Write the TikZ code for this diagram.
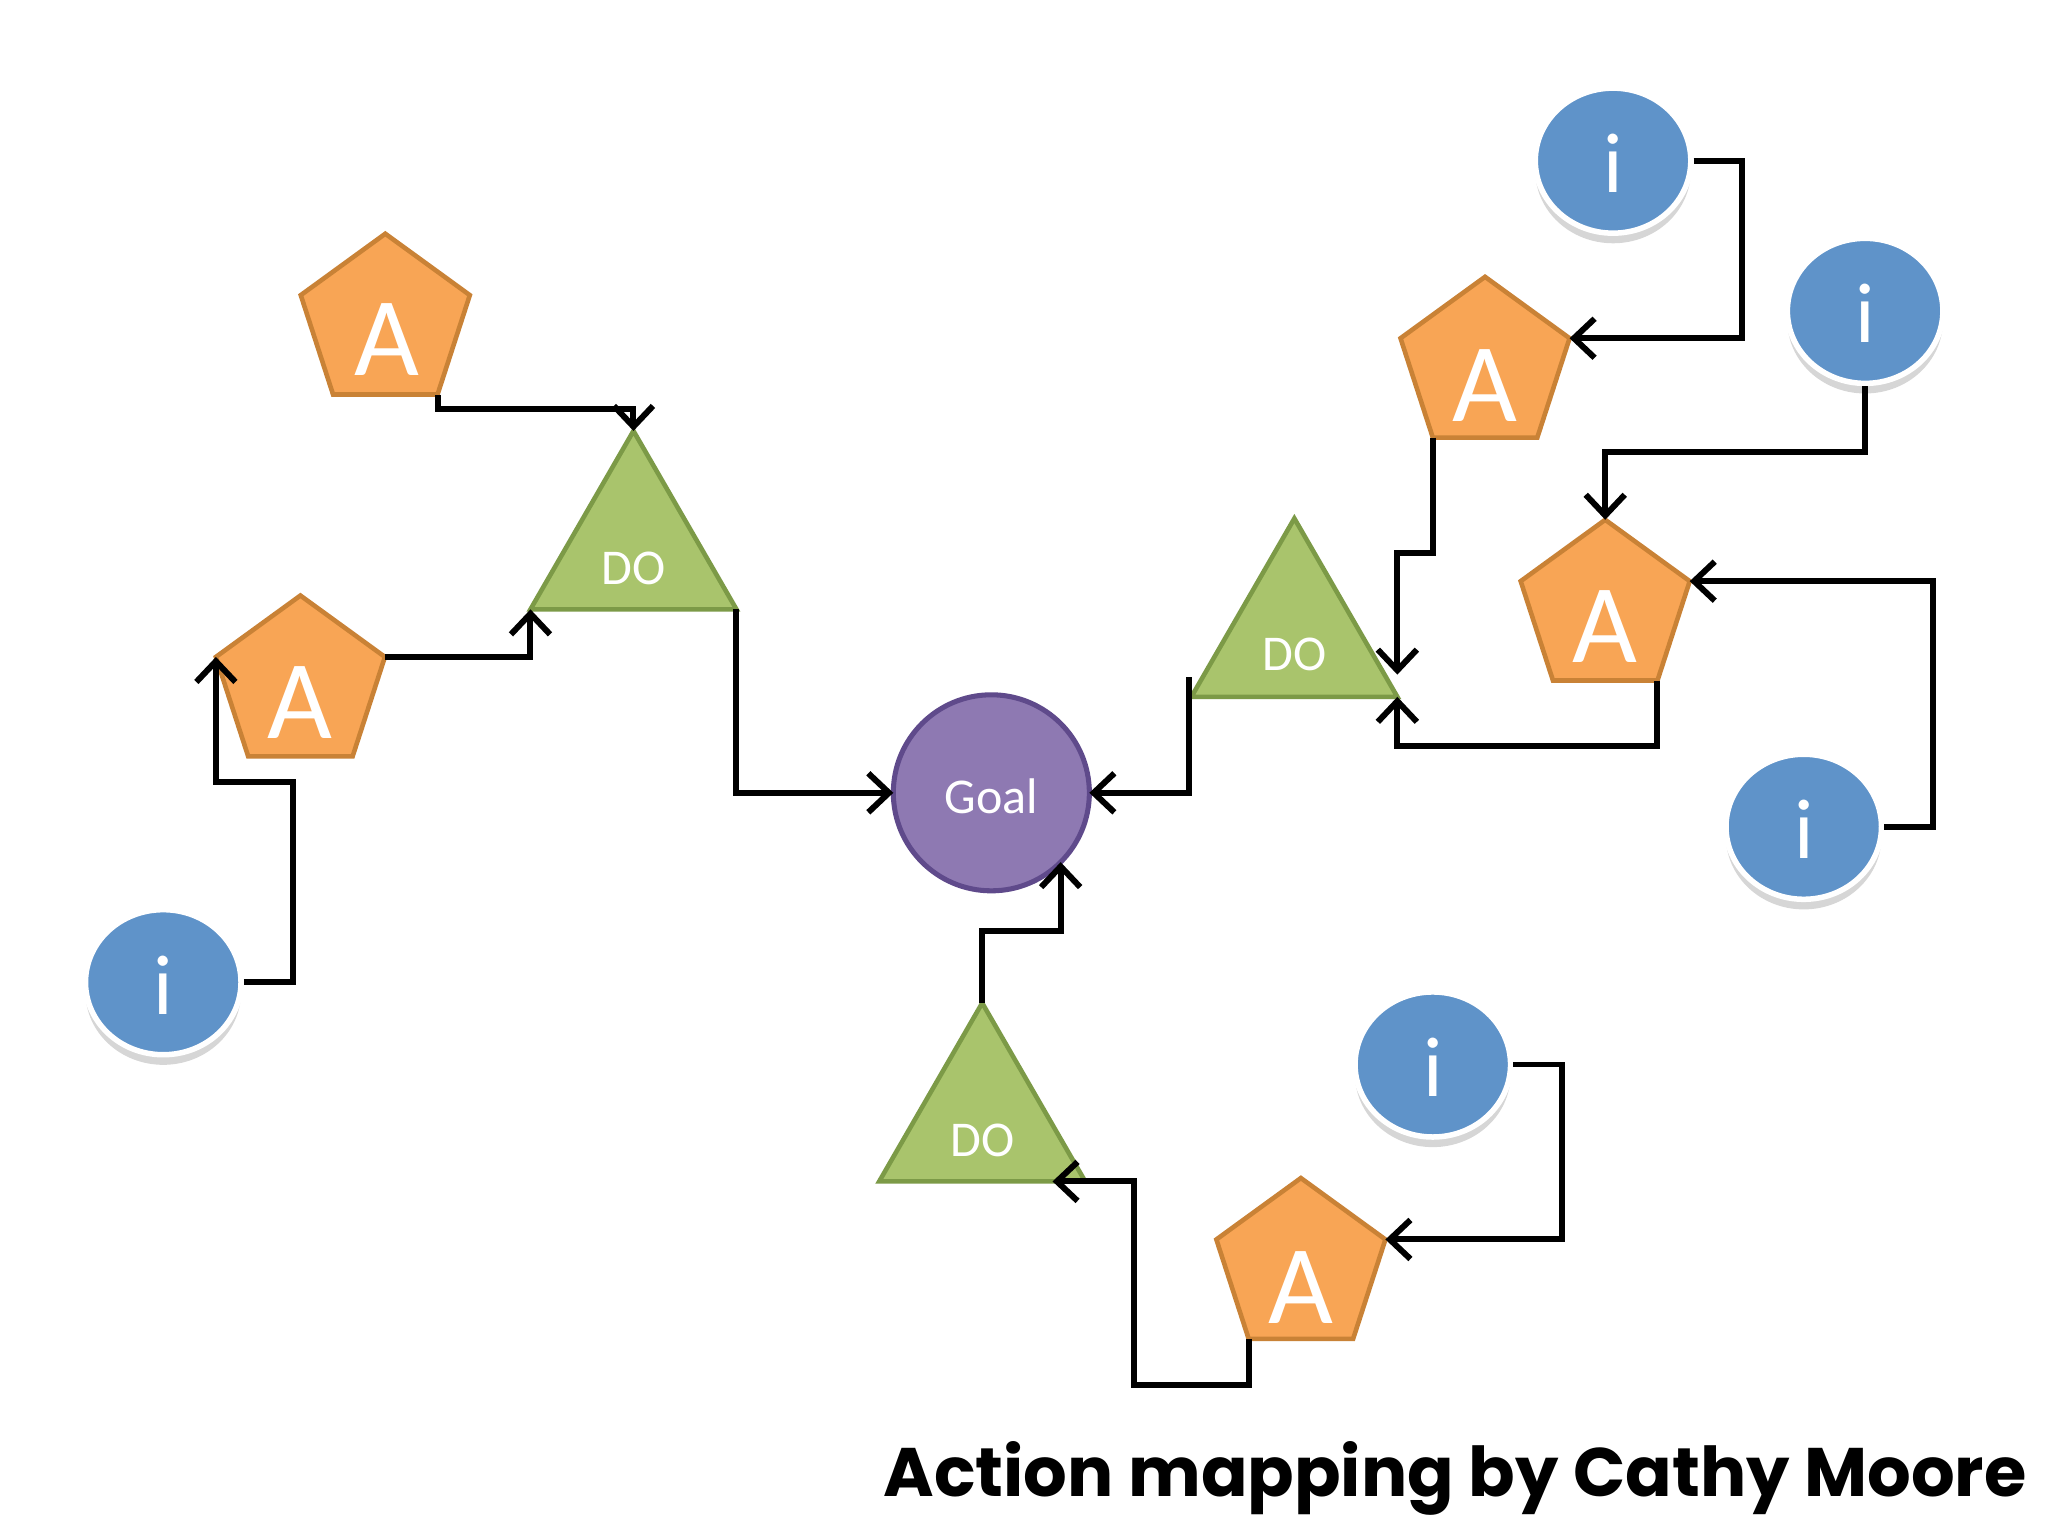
\documentclass[tikz,border=0pt]{standalone}
\usepackage{fontspec}
\setmainfont{Carlito}
\newfontfamily\titlefont{Poppins}
\usetikzlibrary{shapes.geometric,arrows.meta,calc,shadows}
\definecolor{aorange}{HTML}{F8A555}
\definecolor{aoedge}{HTML}{C98236}
\definecolor{dgreen}{HTML}{A9C46C}
\definecolor{dgedge}{HTML}{7C9A47}
\definecolor{gpurple}{HTML}{8E79B2}
\definecolor{gpedge}{HTML}{5F4A8B}
\definecolor{iblue}{HTML}{5F93C9}
\begin{document}
\begin{tikzpicture}[x=0.01cm,y=-0.01cm,
  apent/.style={regular polygon, regular polygon sides=5, minimum size=1.36cm,
    inner sep=0pt, outer sep=0pt, fill=aorange, draw=aoedge, line width=1pt},
  dotri/.style={regular polygon, regular polygon sides=3, minimum size=1.82cm,
    inner sep=0pt, outer sep=0pt, fill=dgreen, draw=dgedge, line width=1pt},
  goalc/.style={circle, minimum size=1.5cm, inner sep=0pt, outer sep=0pt,
    fill=gpurple, draw=gpedge, line width=1.1pt},
  infoc/.style={ellipse, minimum width=1.19cm, minimum height=1.11cm, inner sep=0pt,
    fill=iblue, draw=white, line width=1.2pt,
    drop shadow={shadow xshift=0pt, shadow yshift=-2.2pt, opacity=0.16, fill=black}},
  atext/.style={text=white, inner sep=0pt, font=\fontsize{24.4}{26}\selectfont},
  dotext/.style={text=white, inner sep=0pt, font=\fontsize{10.9}{12}\selectfont},
  itext/.style={text=white, inner sep=0pt, font=\fontsize{18.5}{20}\selectfont},
  conn/.style={line width=1.3pt, draw=black, -{Straight Barb[length=4.5pt,width=8.5pt,line width=1.3pt]}}
]
\useasboundingbox[fill=white] (0,0) rectangle (1568,1176);

% pentagons
\node[apent] (A1) at (295,247) {};
\node[apent] (A2) at (230,524) {};
\node[apent] (A3) at (1137,280) {};
\node[apent] (A4) at (1229,466) {};
\node[apent] (A5) at (996,970) {};
% triangles
\node[dotri] (T1) at (485,421) {};
\node[dotri] (T2) at (991,488) {};
\node[dotri] (T3) at (752,859) {};
% goal
\node[goalc] (G) at (759,607) {};
% info circles
\node[infoc] (I1) at (125,752) {};
\node[infoc] (I2) at (1235,123) {};
\node[infoc] (I3) at (1428,238) {};
\node[infoc] (I4) at (1381,633) {};
\node[infoc] (I5) at (1097,815) {};

% texts
\node[atext] (A1t) at ($(A1.center)+(1,13)$) {A};
\node[atext] (A2t) at ($(A2.center)+(0,14)$) {A};
\node[atext] (A3t) at ($(A3.center)+(0,15)$) {A};
\node[atext] (A4t) at ($(A4.center)+(0,14)$) {A};
\node[atext] (A5t) at ($(A5.center)+(0,16)$) {A};
\node[dotext] (T1t) at ($(T1.center)+(0,14)$) {DO};
\node[dotext] (T2t) at ($(T2.center)+(0,13)$) {DO};
\node[dotext] (T3t) at ($(T3.center)+(0,14)$) {DO};
\node[dotext] (Gt) at ($(G.center)+(0,3)$) {Goal};
\node[itext] (I1t) at ($(I1.center)+(0,2)$) {i};
\node[itext] (I2t) at ($(I2.center)+(0,2)$) {i};
\node[itext] (I3t) at ($(I3.center)+(0,2)$) {i};
\node[itext] (I4t) at ($(I4.center)+(0,2)$) {i};
\node[itext] (I5t) at ($(I5.center)+(0,2)$) {i};

% connectors
\draw[conn] (A1.corner 4) |- ($(T1.corner 1)+(0,-17)$) -- (T1.corner 1);
\draw[conn] (A2.corner 5) -| (T1.corner 2);
\draw[conn] (I1.east) -| ($(A2.corner 2)+(59,96)$) -| (A2.corner 2);
\draw[conn] (T1.corner 3) |- (G.west);
\draw[conn] ($(T2.corner 2)+(-2,-15)$) |- (G.east);
\draw[conn] (T3.corner 1) -- ++(0,-55) -| (G.-45);
\draw[conn] (A5.corner 3) |- ($(T3.corner 3)+(37,156)$) |- ($(T3.corner 3)+(-25,0)$);
\draw[conn] (I5.east) -| ($(A5.corner 5)+(135,0)$) -- (A5.corner 5);
\draw[conn] (I2.east) -| ($(A3.corner 5)+(132,0)$) -- (A3.corner 5);
\draw[conn] (A3.corner 3) |- ($(T2.corner 3)+(0,-110)$) -- ($(T2.corner 3)+(0,-17)$);
\draw[conn] (A4.corner 4) |- ($(T2.corner 3)+(0,38)$) -- (T2.corner 3);
\draw[conn] (I3.south) |- ($(A4.corner 1)+(0,-52)$) -- (A4.corner 1);
\draw[conn] (I4.east) -| ($(A4.corner 5)+(186,0)$) -- (A4.corner 5);

% title
\node[anchor=base, inner sep=0pt, font=\titlefont\bfseries\fontsize{14.95}{18}\selectfont] (title) at (1114,1146) {Action mapping by Cathy Moore};
\end{tikzpicture}
\end{document}
